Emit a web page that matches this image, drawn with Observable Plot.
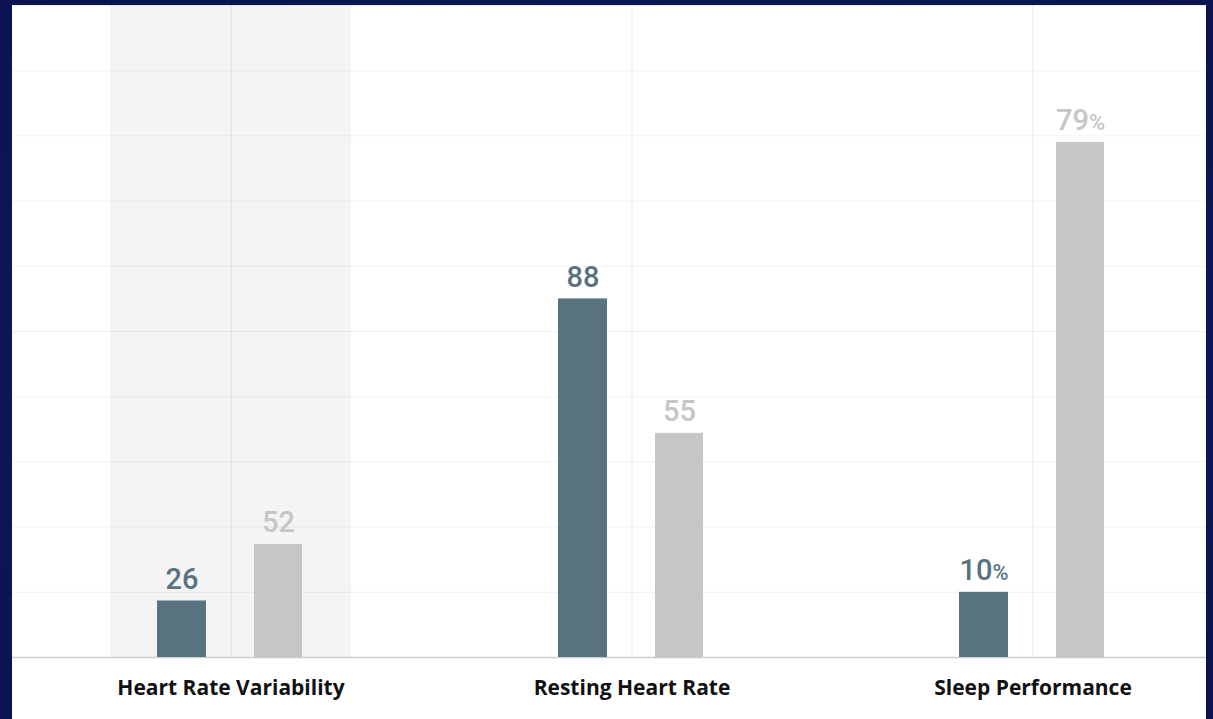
<!DOCTYPE html>
<html>
<head>
<meta charset="utf-8">
<script src="https://cdn.jsdelivr.net/npm/d3@7"></script>
<script src="https://cdn.jsdelivr.net/npm/@observablehq/plot@0.6"></script>
<style>
  html, body { margin: 0; padding: 0; width: 1213px; height: 719px; overflow: hidden;
    background: radial-gradient(ellipse at 50% 50%, #14226a 0%, #0c1656 70%, #0a1350 100%); }
  #panel { position: absolute; left: 12px; top: 5px; width: 1194px; height: 714px; background: #ffffff; }
  #panel svg { display: block; }
</style>
</head>
<body>
<div id="panel"></div>
<script>
// Recovery metrics: current reading vs. typical reading, each shown on its own metric scale
const categories = ["Heart Rate Variability", "Resting Heart Rate", "Sleep Performance"];
const currentValues = [26, 88, 10];
const typicalValues = [52, 55, 79];
const scaleMax = [300, 160, 100];   // full-height value of each metric's own scale
const units = ["", "", "%"];
const shadedCategories = ["Heart Rate Variability"];
const yTicks = [0, 10, 20, 30, 40, 50, 60, 70, 80, 90, 100];

const toRows = (values, series) => categories.map((category, i) => ({
  category,
  series,
  value: values[i],
  share: values[i] / scaleMax[i] * 100,
  label: `${values[i]}${units[i]}`
}));
const current = toRows(currentValues, "current");
const typical = toRows(typicalValues, "typical");

const darkColor = "#587280";
const lightColor = "#c6c6c6";

const chart = Plot.plot({
  width: 1194,
  height: 714,
  marginTop: 0,
  marginBottom: 62,
  marginLeft: 0,
  marginRight: 0,
  style: { background: "transparent", fontFamily: "Roboto, sans-serif", overflow: "visible" },
  x: { domain: categories, insetLeft: 98, insetRight: 52.5, paddingInner: 0.4, paddingOuter: 0, axis: null },
  y: { domain: [0, 100], axis: null },
  marks: [
    Plot.cell(shadedCategories, { x: d => d, fill: "#f4f4f4" }),
    Plot.ruleY(yTicks, { stroke: "#000", strokeOpacity: 0.055 }),
    Plot.ruleX(categories, { stroke: "#000", strokeOpacity: 0.09 }),
    Plot.ruleY([0], { stroke: "#cdcdcd", strokeWidth: 1.5 }),
    Plot.barY(current, { x: "category", y: "share", fill: darkColor, insetLeft: 47, insetRight: 145 }),
    Plot.barY(typical, { x: "category", y: "share", fill: lightColor, insetLeft: 144, insetRight: 49 }),
    Plot.text(current, { x: "category", y: "share", text: "label", dx: -49, dy: -12, lineAnchor: "bottom",
      fill: darkColor, fontSize: 29, fontWeight: 500 }),
    Plot.text(typical, { x: "category", y: "share", text: "label", dx: 47.5, dy: -12, lineAnchor: "bottom",
      fill: lightColor, fontSize: 29, fontWeight: 500 }),
    Plot.text(categories, { x: d => d, frameAnchor: "bottom", dy: 31, lineAnchor: "middle",
      fill: "#111", fontSize: 21, fontWeight: 700, fontFamily: "'Open Sans', sans-serif" })
  ]
});

// Render the percent sign smaller than the digits
chart.querySelectorAll("text").forEach(t => {
  const s = t.textContent;
  if (s.endsWith("%")) {
    t.textContent = s.slice(0, -1);
    const pct = document.createElementNS("http://www.w3.org/2000/svg", "tspan");
    pct.setAttribute("font-size", "0.75em");
    pct.textContent = "%";
    t.appendChild(pct);
  }
});

document.getElementById("panel").appendChild(chart);
</script>
</body>
</html>
